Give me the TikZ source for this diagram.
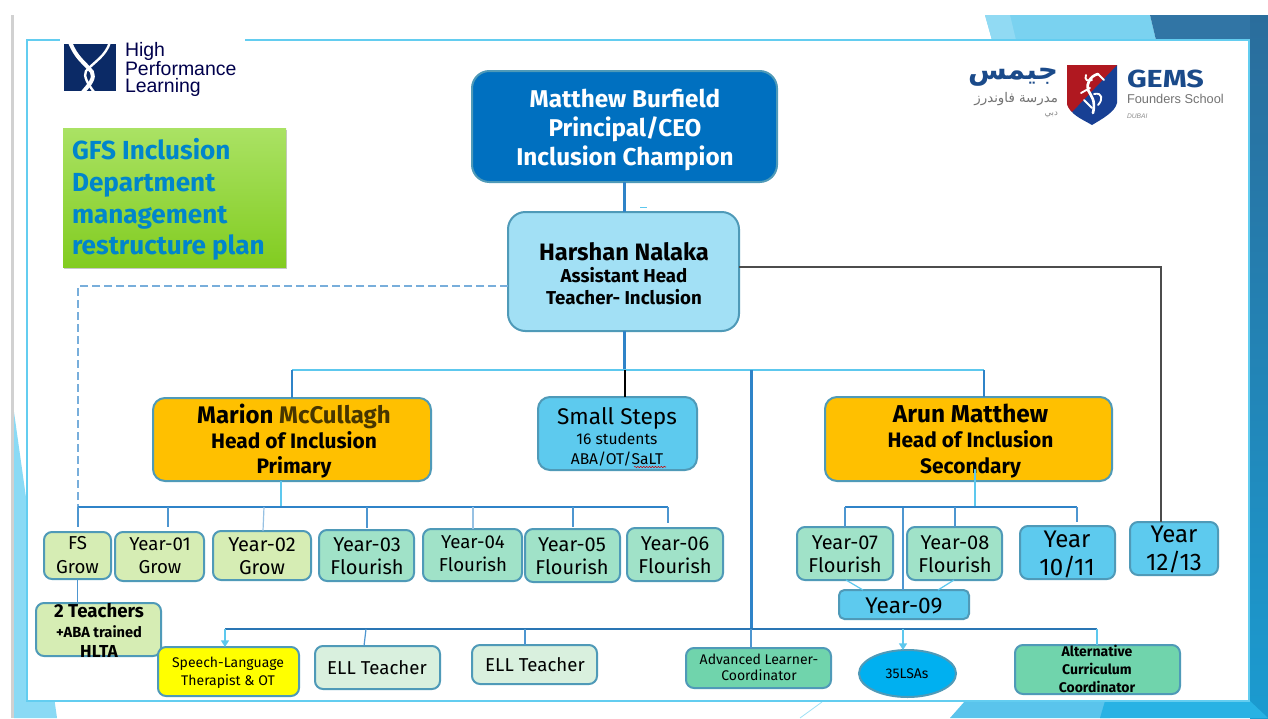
\documentclass[tikz,border=0pt]{standalone}
\usepackage{graphicx}
\usepackage{fontspec}
\setmainfont{Fira Sans}
\newfontfamily\logofont{Liberation Sans}
\newfontfamily\arabicfont[Script=Arabic]{DejaVu Sans}
\TeXXeTstate=1
\usetikzlibrary{shapes.geometric,shadows,decorations.pathmorphing,arrows.meta}
\definecolor{frameblue}{HTML}{63CDF0}
\definecolor{edge}{HTML}{4F9AB8}
\definecolor{busblue}{HTML}{2F83C8}
\definecolor{paleblue}{HTML}{5DC8EE}
\definecolor{growgreen}{HTML}{D6EDB4}
\definecolor{flourish}{HTML}{A0E2C8}
\definecolor{skyfill}{HTML}{5DCAEE}
\definecolor{ellfill}{HTML}{D9F0DE}
\definecolor{coordfill}{HTML}{70D4AC}
\definecolor{amber}{HTML}{FFC000}
\definecolor{navy}{HTML}{0B2A66}
\definecolor{gemsblue}{HTML}{1A4A8A}
\definecolor{pureyellow}{HTML}{FFFF00}
\tikzset{
  x=0.75pt,y=-0.75pt,
  boxs/.style={draw=edge,line width=1.5pt,rounded corners=6pt,inner sep=0pt,outer sep=0pt},
  bigbox/.style={boxs,rounded corners=13pt},
  midbox/.style={boxs,rounded corners=9pt},
  lbl/.style={inner sep=0pt,outer sep=0pt,align=center,text=black},
  bus/.style={draw=busblue,line width=1.5pt},
  busthick/.style={draw=busblue,line width=2.25pt},
  drop/.style={draw=busblue!85,line width=0.9pt},
  pale/.style={draw=paleblue,line width=1.3pt},
  palearrow/.style={draw=paleblue,line width=1pt,-{Triangle[width=6pt,length=5pt,fill=paleblue]}},
}
% style, name, x1,y1,x2,y2, label centre, size/leading, text
\newcommand{\bx}[9]{%
  \node[#1,minimum width={(#5-#3)*0.75pt},minimum height={(#6-#4)*0.75pt}] (#2) at ({(#3+#5)/2},{(#4+#6)/2}) {};
  \def\tmpargs{#8}\expandafter\setfs\tmpargs\relax
  \node[lbl,font=\fontsize{\fsa}{\fsb}\selectfont] (#2t) at (#7) {#9};
}
\def\setfs#1/#2\relax{\def\fsa{#1}\def\fsb{#2}}
\begin{document}
\begin{tikzpicture}
\useasboundingbox (0,0) rectangle (1268,718);
% backdrop
\fill[white] (0,0) rectangle (1268,718);
\fill[black!18] (11,15) rectangle (14,718);
\fill[color={rgb,255:red,138;green,218;blue,245}] (14,412) -- (57,718) -- (14,718) -- cycle;
\fill[color={rgb,255:red,122;green,210;blue,240}] (985,15) -- (1150,15) -- (1156,40) -- (992,40) -- cycle;
\fill[color={rgb,255:red,145;green,218;blue,243}] (985,15) -- (1010,15) -- (1016,40) -- (992,40) -- cycle;
\fill[color={rgb,255:red,49;green,117;blue,165}] (1150,15) -- (1250,15) -- (1250,40) -- (1156,40) -- cycle;
\shade[top color={rgb,255:red,42;green,109;blue,156},bottom color={rgb,255:red,27;green,155;blue,208}] (1250,15) rectangle (1268,718);
\fill[color={rgb,255:red,90;green,196;blue,236}] (950,718) -- (965,701) -- (1110,701) -- (1110,718) -- cycle;
\fill[color={rgb,255:red,40;green,178;blue,228}] (1105,701) -- (1250,701) -- (1268,718) -- (1100,718) -- cycle;
\draw[frameblue!60,line width=0.6pt] (800,718) -- (822,702);
% frame
\draw[frameblue,line width=1.5pt,fill=white] (27,40) rectangle (1249,701);
\fill[white] (60,36) rectangle (245,44);
% High Performance Learning logo
\fill[navy] (64,44) rectangle (116,91);
\draw[white,line width=3pt] (70,42) .. controls (76,58) and (84,62) .. (92,72) .. controls (95,78) and (90,84) .. (83,92);
\draw[white,line width=1.8pt] (110,42) .. controls (106,56) and (94,62) .. (86,71) .. controls (83,76) and (88,84) .. (94,92);
\node[lbl,anchor=west,text=black!70!blue,font=\logofont\fontsize{14.6}{12.4}\selectfont,align=left] (hpl) at (125,69.5) {High\\Performance\\Learning};
% GEMS logo
\fill[color={rgb,255:red,24;green,64;blue,148}] (1067,65) -- (1117,65) -- (1117,103) .. controls (1115,112) and (1102,119) .. (1092,125) .. controls (1082,119) and (1070,115) .. (1067,103) -- cycle;
\fill[color={rgb,255:red,176;green,24;blue,32}] (1067,65) -- (1117,65) -- (1072,112) .. controls (1069,109) and (1067,106) .. (1067,103) -- cycle;
\draw[white,line width=2pt,line cap=round,line join=round] (1098,74) .. controls (1090,76) and (1086,84) .. (1088,90) .. controls (1091,96) and (1096,100) .. (1093,113);
\draw[white,line width=1.4pt,line cap=round,line join=round] (1086,75) .. controls (1084,80) and (1088,82) .. (1092,80) (1081,93) -- (1090,88) (1094,94) .. controls (1103,92) and (1103,100) .. (1098,105) (1084,100) -- (1092,108) (1098,74) -- (1104,80);
\node[lbl,anchor=west,text=gemsblue,font=\bfseries\fontsize{18.5}{20}\selectfont] (gems) at (1127,79) {\scalebox{1.24}[1]{GEMS}};
\node[lbl,anchor=west,text=black!55,font=\logofont\fontsize{9.6}{12}\selectfont] (founders) at (1127,99) {Founders School};
\node[lbl,anchor=west,text=black!45,font=\logofont\itshape\fontsize{5}{6}\selectfont] (dubai) at (1127,116) {DUBAI};
\node[lbl,anchor=east,text=gemsblue,font=\arabicfont\bfseries\fontsize{21}{20}\selectfont] (ar1) at (1058,77) {\beginR جيمس\endR};
\node[lbl,anchor=east,text=black!55,font=\arabicfont\fontsize{10}{12}\selectfont] (ar2) at (1058,99) {\beginR مدرسة فاوندرز\endR};
\node[lbl,anchor=east,text=black!45,font=\arabicfont\fontsize{6.5}{8}\selectfont] (ar3) at (1058,115) {\beginR دبي\endR};
% title
\node[minimum width={223*0.75pt},minimum height={139*0.75pt},inner sep=0pt,top color={rgb,255:red,170;green,226;blue,100},bottom color={rgb,255:red,130;green,204;blue,32},drop shadow={shadow xshift=0.8pt,shadow yshift=-1.5pt,fill=black,opacity=.22}] (title) at (174.5,197.5) {};
\node[lbl,anchor=west,align=left,text={rgb,255:red,0;green,133;blue,204},font=\bfseries\fontsize{19.6}{23.7}\selectfont] (titlet) at (72,199.5) {GFS Inclusion\\Department\\management\\restructure plan};
% connectors under boxes
\coordinate (busT) at (624,370);
\coordinate (busL) at (292,370);
\coordinate (busR) at (984,370);
\coordinate (busS) at (625,370);
\coordinate (busV) at (751,370);
\coordinate (lowV) at (751,629);
\coordinate (lowL) at (225,629);
\coordinate (lowR) at (1097,629);
\coordinate (pA) at (78,507);
\coordinate (pB) at (668,507);
\coordinate (pM) at (281,507);
\coordinate (sA) at (845,507);
\coordinate (sB) at (1077,507);
\coordinate (sM) at (975,507);
% boxes
\bx{bigbox,fill={rgb,255:red,0;green,112;blue,192}}{ceo}{472}{71}{777}{182}{625,130}{18.2/21.6}{\color{white}\bfseries Matthew Burfield\\\color{white}\bfseries Principal/CEO\\\color{white}\bfseries Inclusion Champion}
\bx{bigbox,fill={rgb,255:red,162;green,224;blue,245}}{hn}{508}{212}{739}{331}{624,274}{14/16.5}{\bfseries\fontsize{17.8}{19}\selectfont Harshan Nalaka\\\bfseries Assistant Head\\\bfseries Teacher- Inclusion}
\bx{midbox,fill=amber}{marion}{153}{398}{431}{481}{294,441}{15.7/19}{\bfseries\fontsize{18}{19}\selectfont Marion {\color{black!60!amber!70!black}McCullagh}\\\bfseries Head of Inclusion\\\bfseries Primary}
\bx{midbox,fill=skyfill}{small}{538}{397}{697}{470}{617,437}{11.7/15}{\fontsize{17}{18}\selectfont Small Steps\\16 students\\ABA/OT/SaLT}
\bx{midbox,fill=amber}{arun}{825}{397}{1112}{481}{970.5,441}{15.7/19}{\bfseries\fontsize{18.3}{19}\selectfont Arun Matthew\\\bfseries Head of Inclusion\\\bfseries Secondary}
\bx{boxs,fill=growgreen}{fs}{44}{532}{111}{579}{77.5,555}{14/17.5}{FS\\Grow}
\bx{boxs,fill=growgreen}{y01}{115}{532}{204}{581}{160,556}{14/17.5}{Year-01\\Grow}
\bx{boxs,fill=growgreen}{y02}{213}{531}{311}{580}{262,556}{15/17.5}{Year-02\\Grow}
\bx{boxs,fill=flourish}{y03}{319}{530}{414}{581}{367,556}{15/17.5}{Year-03\\Flourish}
\bx{boxs,fill=flourish}{y04}{423}{529}{522}{581}{473,554}{14/17.5}{Year-04\\Flourish}
\bx{boxs,fill=flourish}{y05}{525}{529}{620}{582}{572,556}{15/17.5}{Year-05\\Flourish}
\bx{boxs,fill=flourish}{y06}{627}{528}{723}{581}{675,555}{15/17.5}{Year-06\\Flourish}
\bx{boxs,fill=flourish}{y07}{797}{527}{893}{580}{845,554}{15/17.5}{Year-07\\Flourish}
\bx{boxs,fill=flourish}{y08}{907}{527}{1002}{580}{955,554}{15/17.5}{Year-08\\Flourish}
\bx{boxs,fill=skyfill}{y1011}{1020}{526}{1115}{579}{1067,554}{18/21}{Year\\10/11}
\bx{boxs,fill=skyfill}{y1213}{1130}{522}{1218}{575}{1174,549.5}{18/20.5}{Year\\12/13}
\bx{boxs,rounded corners=4pt,fill=skyfill}{y09}{839}{590}{969}{619}{904,606}{17/20}{Year-09}
\bx{boxs,fill=growgreen}{hlta}{36}{603}{161}{656}{99,630}{12/15}{\bfseries\fontsize{14}{15}\selectfont 2 Teachers\\\bfseries\fontsize{11}{15}\selectfont +ABA trained\\\bfseries\fontsize{13}{15}\selectfont HLTA}
\bx{boxs,fill=pureyellow}{slt}{158}{647}{299}{696}{228,672.5}{10.5/13.5}{Speech-Language\\Therapist \& OT}
\bx{boxs,fill=ellfill}{ell1}{315}{646}{440}{689}{377,668}{14/17}{ELL Teacher}
\bx{boxs,fill=ellfill}{ell2}{472}{645}{597}{684}{535,665}{14/17}{ELL Teacher}
\bx{boxs,fill=coordfill}{alc}{686}{648}{831}{688}{759,667}{10.5/12}{Advanced Learner-\\Coordinator}
\bx{draw=edge,line width=1.5pt,ellipse,inner sep=0pt,outer sep=0pt,fill={rgb,255:red,0;green,176;blue,240}}{lsa}{859}{650}{956}{697}{907,674}{10.5/12}{35LSAs}
\bx{boxs,fill=coordfill}{alt}{1015}{645}{1180}{694}{1097,669}{10.5/13.5}{\bfseries Alternative\\\bfseries Curriculum\\\bfseries Coordinator}
% spell-check squiggle
\coordinate (sq1) at (634,467);
\coordinate (sq2) at (666,467);
\draw[red!80!black,line width=0.4pt,decorate,decoration={snake,amplitude=0.5pt,segment length=2.2pt}] (sq1) -- (sq2);
% top connectors
\draw[busthick] (ceo.south -| busT) -- (hn.north -| busT);
\coordinate (mk1) at (640,207);\coordinate (mk2) at (647,207);
\draw[paleblue,line width=0.6pt] (mk1) -- (mk2);
\draw[busthick] (hn.south -| busT) -- (busT);
\draw[draw=paleblue,line width=1.6pt] (busL) -- (busR);
\draw[busthick,line width=2pt] (busL) -- (marion.north -| busL);
\draw[busthick,line width=2pt] (busR) -- (arun.north -| busR);
\draw[black,line width=1.5pt] (busS) -- (small.north -| busS);
\draw[busthick] (busV) -- (lowV);
% dashed to FS
\coordinate (hnw) at (hn.west |- 0,286);
\coordinate (dashC) at (78,286);
\draw[busblue!65,line width=1pt,dashed,dash pattern=on 6pt off 3pt] (hnw) -- (dashC) -- (pA);
% right line
\coordinate (hnE) at (739,267);
\coordinate (corner) at (1161,267);
\draw[black!70,line width=0.9pt] (hnE) -- (corner) -- (corner |- y1213.north);
% primary bus
\draw[pale] (marion.south -| pM) -- (pM);
\draw[bus] (pA) -- (pB);
\coordinate (e0) at (78,527);
\coordinate (d1) at (168,507);\coordinate (e1) at (168,527);
\coordinate (d2) at (264,507);\coordinate (e2) at (263,531);
\coordinate (d3) at (367,507);\coordinate (e3) at (367,528);
\coordinate (d4) at (473,507);\coordinate (e4) at (473,529);
\coordinate (d5) at (573,507);\coordinate (e5) at (573,527);
\coordinate (e6) at (668,523);
\draw[drop] (pA) -- (e0);
\draw[drop] (d1) -- (e1);
\draw[drop,busblue!50] (d2) -- (e2);
\draw[drop] (d3) -- (e3);
\draw[drop,busblue!50] (d4) -- (e4);
\draw[drop] (d5) -- (e5);
\draw[drop] (pB) -- (e6);
\draw[drop] (fs.south) -- (fs.south |- hlta.north);
% secondary bus
\draw[pale] (sM |- 0,469) -- (sM);
\draw[bus] (sA) -- (sB);
\coordinate (d7) at (903,508);
\coordinate (d8) at (955,507);
\draw[drop] (sA) -- (sA |- y07.north);
\draw[drop] (d7) -- (d7 |- y09.north);
\draw[drop] (d8) -- (d8 |- y08.north);
\draw[drop] (sB) -- (sB |- 0,522);
\coordinate (u7) at (846,580);\coordinate (v7) at (863,590);
\coordinate (u8) at (954,580);\coordinate (v8) at (938,590);
\draw[drop,paleblue] (u7) -- (v7);
\draw[drop,paleblue] (u8) -- (v8);
% lower bus
\draw[bus,draw=busblue!90!black] (lowL) -- (lowR);
\draw[palearrow] (lowL) -- (lowL |- slt.north);
\coordinate (d11) at (366,629);\coordinate (e11) at (364,646);
\coordinate (d12) at (525,629);
\coordinate (d13) at (903,629);
\draw[drop] (d11) -- (e11);
\draw[drop] (d12) -- (d12 |- ell2.north);
\draw[drop] (lowV) -- (lowV |- alc.north);
\draw[palearrow] (d13) -- (d13 |- lsa.north);
\draw[pale,line width=1pt] (lowR) -- (lowR |- alt.north);
\end{tikzpicture}
\end{document}
